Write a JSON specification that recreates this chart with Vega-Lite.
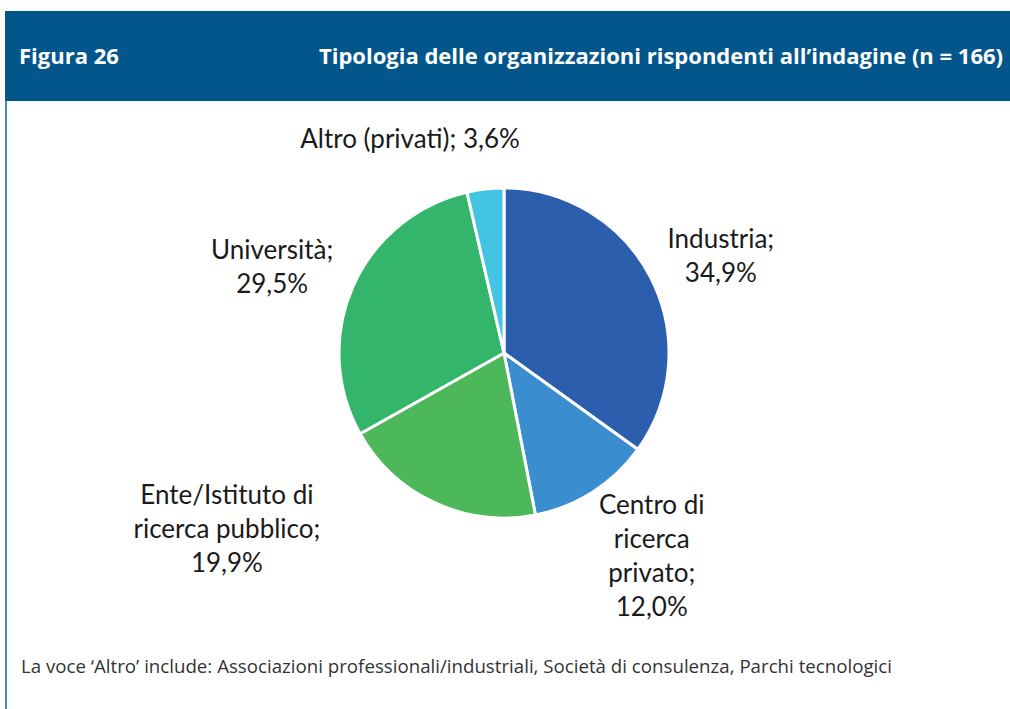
{
  "$schema": "https://vega.github.io/schema/vega-lite/v6.json",
  "padding": {"left": 5, "top": 7, "right": 0, "bottom": 0},
  "spacing": 0,
  "bounds": "flush",
  "background": "white",
  "config": {"view": {"stroke": null}},
  "datasets": {
    "pie": [
      {"ord": 1, "cat": "Industria", "value": 34.9, "label": "Industria;\n34,9%"},
      {"ord": 2, "cat": "Centro di ricerca privato", "value": 12.0, "label": "Centro di\nricerca\nprivato;\n12,0%"},
      {"ord": 3, "cat": "Ente/Istituto di ricerca pubblico", "value": 19.9, "label": "Ente/Istituto di\nricerca pubblico;\n19,9%"},
      {"ord": 4, "cat": "Università", "value": 29.5, "label": "Università;\n29,5%"},
      {"ord": 5, "cat": "Altro (privati)", "value": 3.6, "label": "Altro (privati); 3,6%"}
    ],
    "header": [
      {"fig": "Figura 26", "title": "Tipologia delle organizzazioni rispondenti all’indagine (n = 166)", "note": "La voce ‘Altro’ include: Associazioni professionali/industriali, Società di consulenza, Parchi tecnologici"}
    ]
  },
  "vconcat": [
    {
      "width": 1005,
      "height": 90,
      "view": {"fill": "#02568B", "stroke": null},
      "data": {"name": "header"},
      "layer": [
        {
          "mark": {"type": "text", "x": 14, "y": 46, "align": "left", "baseline": "middle", "font": "Open Sans", "fontWeight": "bold", "fontSize": 22, "color": "white"},
          "encoding": {"text": {"field": "fig"}}
        },
        {
          "mark": {"type": "text", "x": 998, "y": 46, "align": "right", "baseline": "middle", "font": "Open Sans", "fontWeight": "bold", "fontSize": 22, "color": "white"},
          "encoding": {"text": {"field": "title"}}
        }
      ]
    },
    {
      "width": 998,
      "height": 504,
      "data": {"name": "pie"},
      "layer": [
        {
          "mark": {"type": "arc", "outerRadius": 165, "stroke": "white", "strokeWidth": 3},
          "encoding": {
            "theta": {"field": "value", "type": "quantitative", "stack": true},
            "order": {"field": "ord", "type": "quantitative"},
            "color": {
              "field": "cat", "type": "nominal", "legend": null,
              "scale": {
                "domain": ["Industria", "Centro di ricerca privato", "Ente/Istituto di ricerca pubblico", "Università", "Altro (privati)"],
                "range": ["#2B5FAD", "#3A8DCE", "#4CB85A", "#33B56B", "#44C4E3"]
              }
            }
          }
        },
        {
          "mark": {"type": "text", "radius": 238, "dx": 5, "dy": -5, "align": "center", "baseline": "middle", "font": "Lato", "fontSize": 26, "lineHeight": 34, "lineBreak": "\n", "color": "#1a1a1a"},
          "encoding": {
            "theta": {"field": "value", "type": "quantitative", "stack": true},
            "order": {"field": "ord", "type": "quantitative"},
            "text": {"condition": {"test": "datum.cat === 'Industria'", "field": "label"}, "value": ""}
          }
        },
        {
          "mark": {"type": "text", "radius": 250, "dx": 13, "dy": -58, "align": "center", "baseline": "middle", "font": "Lato", "fontSize": 26, "lineHeight": 34, "lineBreak": "\n", "color": "#1a1a1a"},
          "encoding": {
            "theta": {"field": "value", "type": "quantitative", "stack": true},
            "order": {"field": "ord", "type": "quantitative"},
            "text": {"condition": {"test": "datum.cat === 'Centro di ricerca privato'", "field": "label"}, "value": ""}
          }
        },
        {
          "mark": {"type": "text", "radius": 250, "dx": -172, "dy": -84, "align": "center", "baseline": "middle", "font": "Lato", "fontSize": 26, "lineHeight": 34, "lineBreak": "\n", "color": "#1a1a1a"},
          "encoding": {
            "theta": {"field": "value", "type": "quantitative", "stack": true},
            "order": {"field": "ord", "type": "quantitative"},
            "text": {"condition": {"test": "datum.cat === 'Ente/Istituto di ricerca pubblico'", "field": "label"}, "value": ""}
          }
        },
        {
          "mark": {"type": "text", "radius": 247, "dx": -6, "dy": -2, "align": "center", "baseline": "middle", "font": "Lato", "fontSize": 26, "lineHeight": 34, "lineBreak": "\n", "color": "#1a1a1a"},
          "encoding": {
            "theta": {"field": "value", "type": "quantitative", "stack": true},
            "order": {"field": "ord", "type": "quantitative"},
            "text": {"condition": {"test": "datum.cat === 'Università'", "field": "label"}, "value": ""}
          }
        },
        {
          "mark": {"type": "text", "radius": 230, "dx": -68, "dy": 16, "align": "center", "baseline": "middle", "font": "Lato", "fontSize": 26, "lineHeight": 34, "lineBreak": "\n", "color": "#1a1a1a"},
          "encoding": {
            "theta": {"field": "value", "type": "quantitative", "stack": true},
            "order": {"field": "ord", "type": "quantitative"},
            "text": {"condition": {"test": "datum.cat === 'Altro (privati)'", "field": "label"}, "value": ""}
          }
        },
        {
          "data": {"values": [{"b": 1}]},
          "mark": {"type": "rule", "color": "#4A88BF", "strokeWidth": 2},
          "encoding": {"x": {"value": 1}}
        }
      ]
    },
    {
      "width": 998,
      "height": 104,
      "data": {"name": "header"},
      "layer": [
        {
          "mark": {"type": "text", "x": 16, "y": 62, "align": "left", "baseline": "middle", "font": "Open Sans", "fontSize": 18.7, "color": "#333333"},
          "encoding": {"text": {"field": "note"}}
        },
        {
          "mark": {"type": "rule", "color": "#4A88BF", "strokeWidth": 2},
          "encoding": {"x": {"value": 1}}
        }
      ]
    }
  ]
}
